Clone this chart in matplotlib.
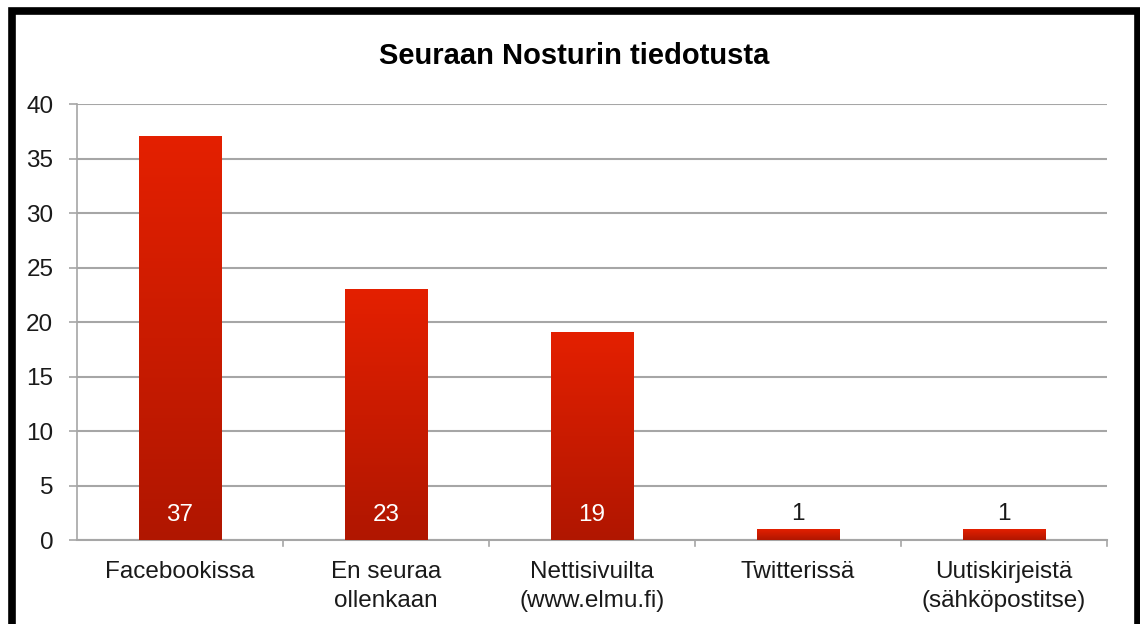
import numpy as np
import matplotlib
matplotlib.use("Agg")
import matplotlib.pyplot as plt
from matplotlib.colors import LinearSegmentedColormap

plt.rcParams['font.family'] = ['Liberation Sans', 'DejaVu Sans']

title = "Seuraan Nosturin tiedotusta"
categories = ["Facebookissa", "En seuraa\nollenkaan", "Nettisivuilta\n(www.elmu.fi)",
              "Twitterissä", "Uutiskirjeistä\n(sähköpostitse)"]
values = [37, 23, 19, 1, 1]
yticks = [0, 5, 10, 15, 20, 25, 30, 35, 40]

fig = plt.figure(figsize=(11.4, 6.24), dpi=100)
ax = fig.add_axes([0.0675, 0.1346, 0.9035, 0.6987])

x = np.arange(len(categories))
width = 0.4
grid_col = "#a6a6a6"
txt_col = "#1a1a1a"
fs = 17.5

# gradient bars: darker red at bottom, brighter at top
cmap = LinearSegmentedColormap.from_list("bar", ["#b01600", "#e42000"])
grad = np.linspace(0, 1, 256).reshape(-1, 1)
bars = ax.bar(x, values, width, color="none", zorder=3)
for b, v in zip(bars, values):
    x0 = b.get_x()
    ax.imshow(grad, extent=[x0, x0 + width, 0, v], origin="lower", cmap=cmap,
              aspect="auto", zorder=3)

for xi, v in zip(x, values):
    if v > 3:
        ax.annotate(str(v), (xi, 0), xytext=(0, 18), textcoords="offset points",
                    ha="center", va="center", color="white", fontsize=fs, zorder=4)
    else:
        ax.annotate(str(v), (xi, v), xytext=(0, 11), textcoords="offset points",
                    ha="center", va="center", color=txt_col, fontsize=fs, zorder=4)

ax.set_xlim(-0.5, len(categories) - 0.5)
ax.set_ylim(0, 40)
ax.set_yticks(yticks)
ax.tick_params(axis="y", labelsize=fs, length=6, color=grid_col, width=1.2, pad=11,
               labelcolor=txt_col)
ax.set_xticks(x)
ax.set_xticklabels(categories, fontsize=fs, linespacing=1.4, color=txt_col)
ax.tick_params(axis="x", length=0, pad=15)
# boundary ticks between categories
for bx in np.arange(-0.5, len(categories), 1.0)[1:]:
    ax.plot([bx, bx], [0, -0.55], color=grid_col, lw=1.2, clip_on=False, zorder=2)

ax.grid(axis="y", color=grid_col, lw=1.5, zorder=1)
for s in ["top", "right"]:
    ax.spines[s].set_visible(False)
ax.spines["left"].set_color(grid_col)
ax.spines["bottom"].set_color(grid_col)
ax.spines["left"].set_linewidth(1.2)
ax.spines["bottom"].set_linewidth(1.5)
ax.set_facecolor("none")

fig.text(0.504, 0.91, title, ha="center", va="center", fontsize=21, fontweight="bold")

# black frame around the chart (bottom edge cut off)
frame = plt.Line2D([0.0105, 0.0105, 0.9982, 0.9982], [0.0, 0.983, 0.983, 0.0],
                   transform=fig.transFigure, color="black", lw=5.5,
                   solid_joinstyle="miter")
fig.add_artist(frame)

fig.savefig("out.png", dpi=100)
